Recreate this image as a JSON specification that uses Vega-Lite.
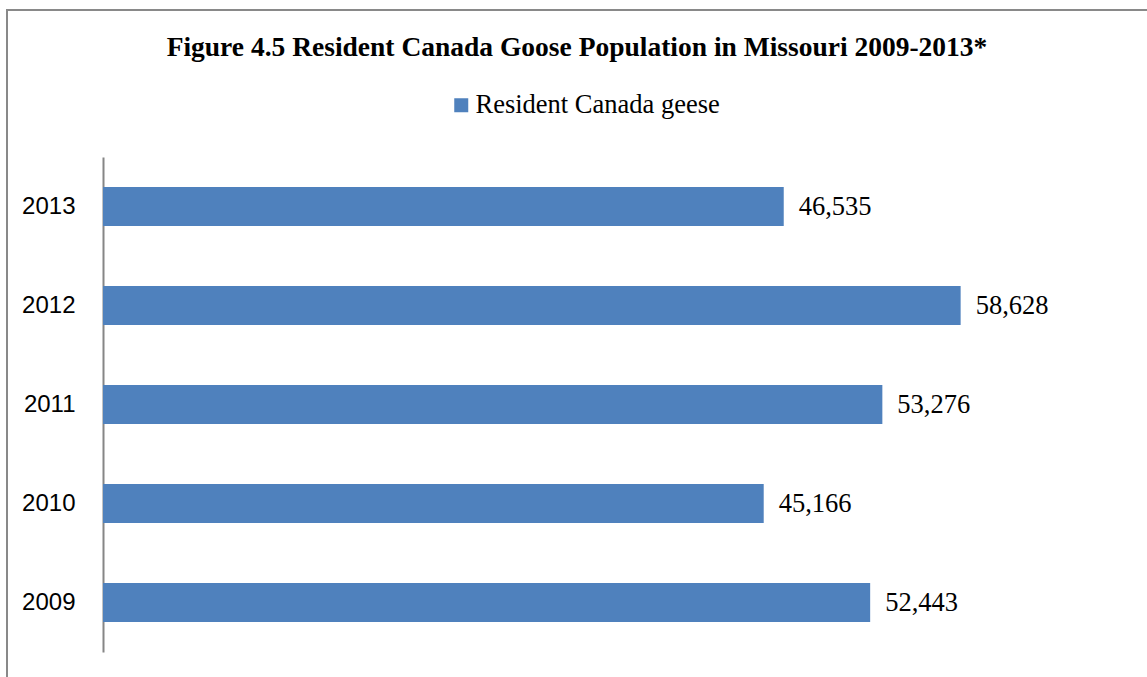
{
  "$schema": "https://vega.github.io/schema/vega-lite/v6.json",
  "width": 1150,
  "height": 680,
  "autosize": {"type": "none"},
  "padding": {"left": 7, "top": 10, "right": 0, "bottom": 0},
  "background": "white",
  "config": {
    "view": {"stroke": "#898989", "strokeWidth": 2},
    "axis": {"grid": false}
  },
  "title": {
    "text": "Figure 4.5 Resident Canada Goose Population in Missouri 2009-2013*",
    "font": "Liberation Serif",
    "fontSize": 27.5,
    "fontWeight": "bold",
    "color": "#000000",
    "anchor": "middle",
    "frame": "group",
    "baseline": "alphabetic",
    "offset": -47,
    "dx": -5,
    "dy": 26
  },
  "data": {
    "values": [
      {"year": "2009", "geese": 52443, "series": "Resident Canada geese"},
      {"year": "2010", "geese": 45166, "series": "Resident Canada geese"},
      {"year": "2011", "geese": 53276, "series": "Resident Canada geese"},
      {"year": "2012", "geese": 58628, "series": "Resident Canada geese"},
      {"year": "2013", "geese": 46535, "series": "Resident Canada geese"}
    ]
  },
  "encoding": {
    "y": {
      "field": "year",
      "type": "ordinal",
      "sort": "descending",
      "scale": {"range": [147, 642], "paddingInner": 0.606, "paddingOuter": 0.303},
      "axis": {
        "title": null,
        "offset": -96,
        "domainColor": "#868686",
        "domainWidth": 2,
        "ticks": false,
        "labelPadding": 28,
        "labelFont": "Liberation Sans",
        "labelFontSize": 24,
        "labelColor": "#000000"
      }
    },
    "x": {
      "field": "geese",
      "type": "quantitative",
      "scale": {"domain": [0, 70000], "range": [96, 1120], "nice": false},
      "axis": null
    }
  },
  "layer": [
    {
      "mark": {"type": "bar", "color": "#4F81BD"},
      "encoding": {
        "color": {
          "field": "series",
          "type": "nominal",
          "scale": {"range": ["#4F81BD"]},
          "legend": {
            "orient": "none",
            "legendX": 441,
            "legendY": 82,
            "title": null,
            "symbolType": "square",
            "symbolSize": 196,
            "symbolStrokeWidth": 0,
            "symbolOpacity": 1,
            "labelFont": "Liberation Serif",
            "labelFontSize": 26.5,
            "labelColor": "#000000",
            "labelOffset": 1,
            "labelLimit": 0,
            "padding": 0
          }
        }
      }
    },
    {
      "mark": {
        "type": "text",
        "align": "left",
        "dx": 15,
        "baseline": "middle",
        "font": "Liberation Serif",
        "fontSize": 26.5,
        "color": "#000000"
      },
      "encoding": {
        "text": {"field": "geese", "type": "quantitative", "format": ","}
      }
    }
  ]
}
